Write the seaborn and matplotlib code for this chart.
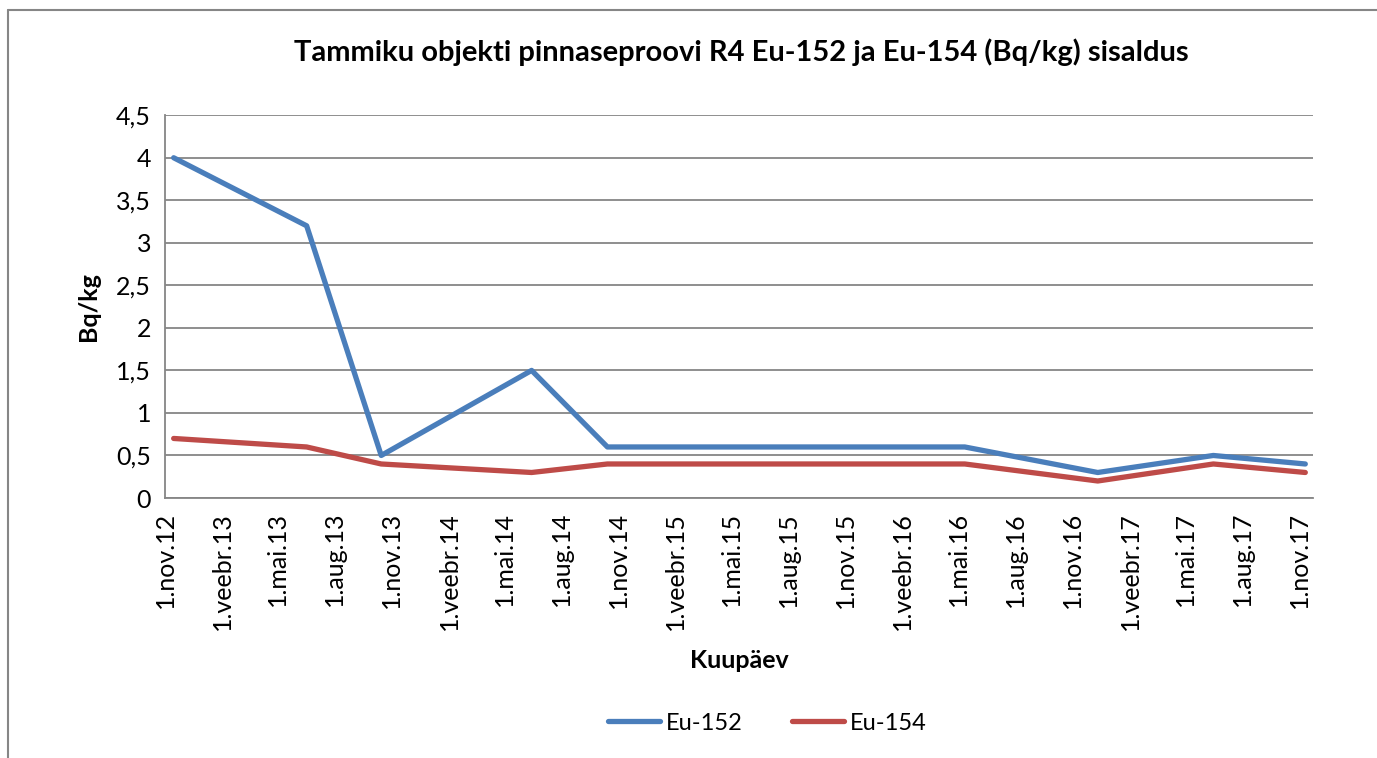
import matplotlib
matplotlib.use("Agg")
import matplotlib.pyplot as plt
import matplotlib.dates as mdates
import pandas as pd
import seaborn as sns

# sample dates and measured values (Bq/kg)
dates = ["2012-11-15", "2013-06-17", "2013-10-15", "2014-06-14", "2014-10-14",
         "2016-05-11", "2016-12-11", "2017-06-15", "2017-11-10"]
eu152 = [4.0, 3.2, 0.5, 1.5, 0.6, 0.6, 0.3, 0.5, 0.4]
eu154 = [0.7, 0.6, 0.4, 0.3, 0.4, 0.4, 0.2, 0.4, 0.3]

tick_dates = ["2012-11-01", "2013-02-01", "2013-05-01", "2013-08-01", "2013-11-01",
              "2014-02-01", "2014-05-01", "2014-08-01", "2014-11-01", "2015-02-01",
              "2015-05-01", "2015-08-01", "2015-11-01", "2016-02-01", "2016-05-01",
              "2016-08-01", "2016-11-01", "2017-02-01", "2017-05-01", "2017-08-01",
              "2017-11-01"]
tick_labels = ["1.nov.12", "1.veebr.13", "1.mai.13", "1.aug.13", "1.nov.13",
               "1.veebr.14", "1.mai.14", "1.aug.14", "1.nov.14", "1.veebr.15",
               "1.mai.15", "1.aug.15", "1.nov.15", "1.veebr.16", "1.mai.16",
               "1.aug.16", "1.nov.16", "1.veebr.17", "1.mai.17", "1.aug.17",
               "1.nov.17"]
y_ticks = [0, 0.5, 1, 1.5, 2, 2.5, 3, 3.5, 4, 4.5]

df = pd.DataFrame({
    "Kuupäev": pd.to_datetime(dates * 2),
    "Bq/kg": eu152 + eu154,
    "Isotoop": ["Eu-152"] * len(dates) + ["Eu-154"] * len(dates),
})

sns.set_style("white")
plt.rcParams["font.family"] = ["Lato", "DejaVu Sans"]

fig = plt.figure(figsize=(13.77, 7.58), dpi=100)
ax = fig.add_axes([0.1198, 0.343, 0.834, 0.505])

sns.lineplot(data=df, x="Kuupäev", y="Bq/kg", hue="Isotoop",
             palette={"Eu-152": "#4A7EBB", "Eu-154": "#BE4B48"},
             linewidth=3.8, ax=ax, legend=False, zorder=3)

ax.set_xlim(pd.Timestamp("2012-11-01"), pd.Timestamp("2017-11-23"))
ax.set_ylim(0, 4.5)
ax.set_yticks(y_ticks)
ax.set_yticklabels([f"{v:g}".replace(".", ",") for v in y_ticks])
ax.set_xticks(mdates.date2num(pd.to_datetime(tick_dates)))
ax.set_xticklabels(tick_labels, rotation=90)

ax.grid(axis="y", color="#868686", linewidth=1.3)
ax.grid(axis="x", visible=False)
for s in ["top", "right"]:
    ax.spines[s].set_visible(False)
for s in ["left", "bottom"]:
    ax.spines[s].set_color("#868686")
    ax.spines[s].set_linewidth(1.3)
ax.tick_params(axis="both", which="major", length=6, width=1.3, color="#868686",
               labelsize=18, labelcolor="black", direction="out")
ax.tick_params(axis="x", pad=4)
ax.tick_params(axis="y", pad=4)

ax.set_xlabel("Kuupäev", fontsize=18, fontweight="bold", labelpad=14, color="black")
ax.set_ylabel("Bq/kg", fontsize=18, fontweight="bold", labelpad=12, color="black")

fig.text(0.5385, 0.931, "Tammiku objekti pinnaseproovi R4 Eu-152 ja Eu-154 (Bq/kg) sisaldus",
         ha="center", va="center", fontsize=21, fontweight="bold", color="black")

handles = [plt.Line2D([], [], color="#4A7EBB", lw=3.8, solid_capstyle="round"),
           plt.Line2D([], [], color="#BE4B48", lw=3.8, solid_capstyle="round")]
leg = fig.legend(handles, ["Eu-152", "Eu-154"], loc="center", bbox_to_anchor=(0.557, 0.046),
                 ncol=2, frameon=False, fontsize=17, handlelength=2.2, handletextpad=0.25,
                 columnspacing=2.1)
for t in leg.get_texts():
    t.set_color("black")

# chart frame (only top and left edges are visible in the crop)
fig.add_artist(plt.Line2D([0.006, 1.0], [0.987, 0.987], color="#868686", lw=1.5,
                          transform=fig.transFigure))
fig.add_artist(plt.Line2D([0.006, 0.006], [0.0, 0.987], color="#868686", lw=1.5,
                          transform=fig.transFigure))

fig.savefig("out.png", dpi=100)
